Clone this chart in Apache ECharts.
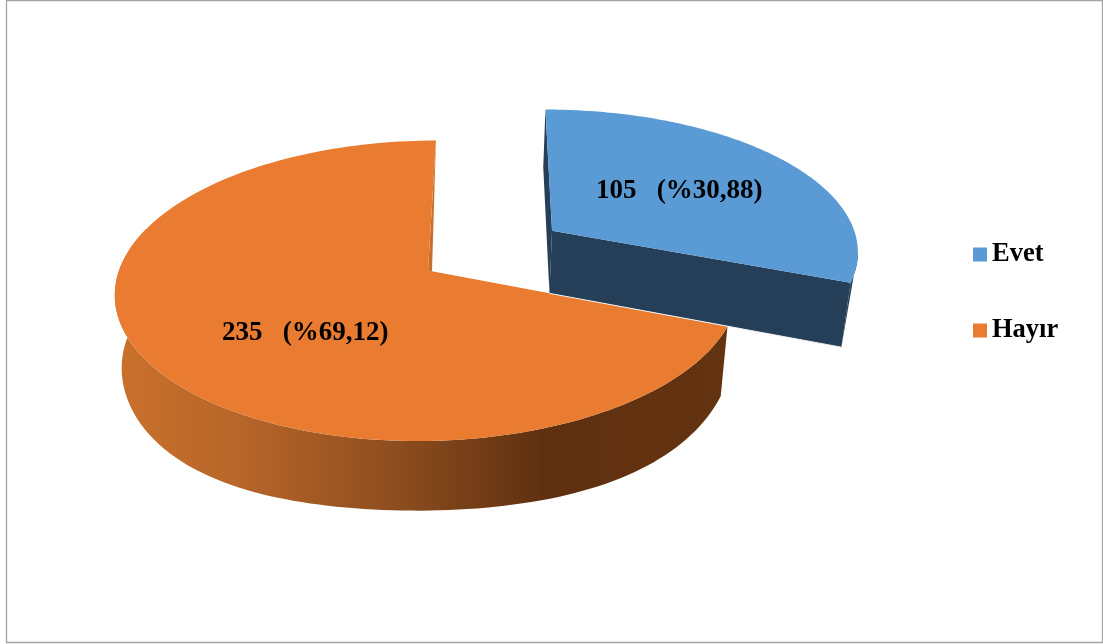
<!DOCTYPE html>
<html><head><meta charset="utf-8">
<style>html,body{margin:0;padding:0;background:#fff}#c{width:1103px;height:644px}</style>
<script src="https://cdn.jsdelivr.net/npm/echarts@6/dist/echarts.min.js"></script>
</head><body><div id="c"></div>
<script>
const categories = ['Evet', 'Hayır'];
const counts = [105, 235];
const percentLabels = ['30,88', '69,12'];

const topColors = ['#5b9bd5', '#ea7c31'];
const wallFills = ['#243f57', null];
const sliceLook = [
  {explode: 0.495, xScale: 1.015, labelR: 0.54, labelShift: 0, bulgeL: 0, bulgeR: 0, bulgeDiag: 0},
  {explode: 0, xScale: 1, labelR: 0.543, labelShift: -13.5, bulgeL: 8, bulgeR: 1, bulgeDiag: 6}
];
const view = {ax: 428, ay: 270.5, A: 147.5, B: 309, E: 9, k: 0.135, depth: 65.5, far: 0.022};
const FONT = 'bold 27px "Liberation Serif","Times New Roman",serif';
const total = counts.reduce((a, b) => a + b, 0);

function project(X, Y, low) {
  const w = 1 + view.k * Y + (low ? view.far : 0);
  return [view.ax + (view.B * X + view.E * Y) / w,
          view.ay + (-view.A * Y + (low ? view.depth : 0)) / w];
}
function sliceRange(i) {
  let s = 0;
  for (let j = 0; j < i; j++) s += counts[j];
  return [s / total * 2 * Math.PI, (s + counts[i]) / total * 2 * Math.PI];
}
function renderSlice(i) {
  const [a0, a1] = sliceRange(i);
  const mid = (a0 + a1) / 2, look = sliceLook[i];
  const ox = look.explode * Math.sin(mid), oy = look.explode * Math.cos(mid);
  const pt = (r, a, low) => {
    const p = project(ox + r * Math.sin(a) * look.xScale, oy + r * Math.cos(a), low);
    const s = Math.sin(a), d = Math.sin(2 * a);
    if (low) p[1] += ((s < 0 ? look.bulgeL : look.bulgeR) * s * s + look.bulgeDiag * d * d) * r;
    return p;
  };
  const steps = 160;
  const rimTop = [], rimLow = [], angles = [];
  for (let n = 0; n <= steps; n++) {
    const a = a0 + (a1 - a0) * n / steps;
    angles.push(a);
    rimTop.push(pt(1, a, false));
    rimLow.push(pt(1, a, true));
  }
  const c0 = pt(0, 0, false), c0l = pt(0, 0, true);
  const poly = (points, fill) => ({type: 'polygon', shape: {points}, style: {fill}});
  const children = [];
  if (i === 0) {
    let ext = 0;
    rimTop.forEach((p, n) => { if (p[0] > rimTop[ext][0]) ext = n; });
    children.push(poly(rimTop.slice(ext).concat([rimLow[steps]]), wallFills[0]));
    children.push(poly([c0, rimTop[0], rimLow[0], c0l], wallFills[0]));
    children.push(poly([c0, rimTop[steps], rimLow[steps], c0l], wallFills[0]));
    children.push({type: 'polyline', shape: {points: [c0l, rimLow[steps]]},
      style: {stroke: '#f2f2f2', lineWidth: 1, fill: 'none'}});
  } else {
    const front = angles.map((a, n) => n).filter(n => Math.cos(angles[n]) < 0.3);
    const up = front.map(n => rimTop[n]), dn = front.map(n => rimLow[n]).reverse();
    const fill = new echarts.graphic.LinearGradient(115, 0, 727, 0, [
      {offset: 0, color: '#ca702c'},
      {offset: 0.2, color: '#b8662a'},
      {offset: 0.45, color: '#8f4e1f'},
      {offset: 0.7, color: '#5f3010'},
      {offset: 1, color: '#643311'}
    ], true);
    children.push(poly(up.concat(dn), fill));
    children.push(poly([c0, rimTop[steps], [c0[0] + 4, c0[1] + 1]], '#c96f2b'));
  }
  children.push(poly([c0].concat(rimTop), topColors[i]));
  const lp = pt(look.labelR, mid + look.labelShift * Math.PI / 180, false);
  children.push({type: 'text', z2: 5, style: {
    x: lp[0], y: lp[1], text: counts[i] + '   (%' + percentLabels[i] + ')',
    font: FONT, fill: '#000', align: 'center', verticalAlign: 'middle'
  }});
  return {type: 'group', children};
}

const chart = echarts.init(document.getElementById('c'), null, {renderer: 'canvas'});
chart.setOption({
  animation: false,
  backgroundColor: '#fff',
  legend: {
    data: categories, orient: 'vertical', left: 968, top: 236,
    itemWidth: 14, itemHeight: 14, itemGap: 49, icon: 'rect',
    selectedMode: false,
    textStyle: {fontFamily: '"Liberation Serif","Times New Roman",serif', fontWeight: 'bold', fontSize: 26.5, color: '#000', lineHeight: 25}
  },
  graphic: [{
    type: 'rect', silent: true, z: 0,
    shape: {x: 6.5, y: 0.5, width: 1096, height: 642},
    style: {fill: 'none', stroke: '#a3a3a3', lineWidth: 1.3}
  }],
  series: categories.map((name, i) => ({
    type: 'custom', name, coordinateSystem: 'none',
    z: i === 0 ? 4 : 2,
    itemStyle: {color: topColors[i]},
    silent: true,
    data: [{name, value: counts[i]}],
    renderItem: () => renderSlice(i)
  }))
});
</script></body></html>
